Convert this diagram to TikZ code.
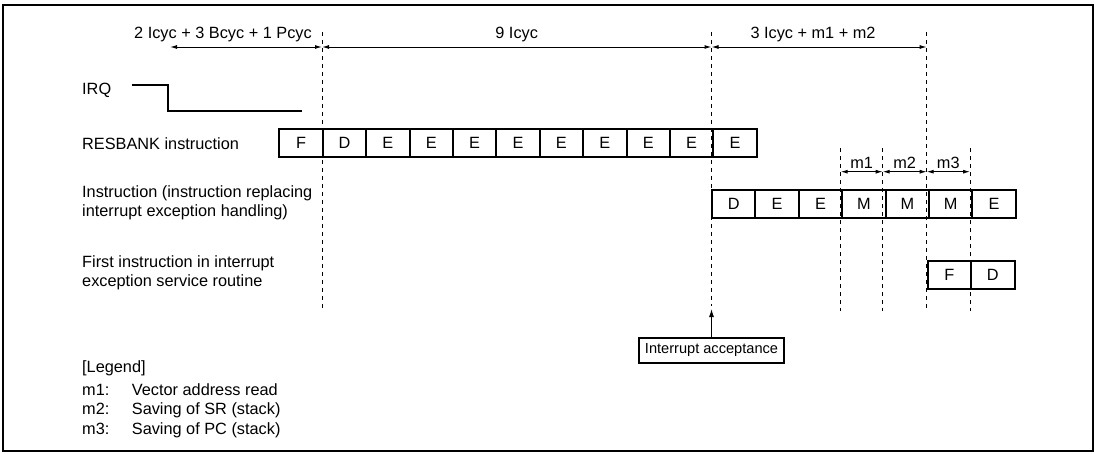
\documentclass[tikz,border=0pt]{standalone}
\usepackage{fontspec}
\setmainfont{Liberation Sans}
\usetikzlibrary{arrows.meta}
\begin{document}
\begin{tikzpicture}[x=1pt,y=-1pt,
  font=\fontsize{16.3}{19}\selectfont,
  cell/.style={draw,line width=2pt,minimum width=43.4pt,minimum height=28pt,inner sep=0pt,anchor=west},
  guide/.style={line width=1pt,dash pattern=on 4pt off 4pt},
  dim/.style={line width=1pt,{Latex[length=7pt,width=4pt]}-{Latex[length=7pt,width=4pt]}},
  lbl/.style={anchor=base west,inner sep=0pt,align=left},
  txt/.style={inner sep=0pt,anchor=base}
]
\useasboundingbox (0,0) rectangle (1100,453);
\draw[line width=2pt] (3,5) rectangle (1093,451);

% rows
\foreach \l [count=\i from 0] in {F,D,E,E,E,E,E,E,E,E,E}
  \node[cell] (r\i) at (278.3+43.4*\i,143) {\l};
\foreach \l [count=\i from 0] in {D,E,E,M,M,M,E}
  \node[cell] (s\i) at (711+43.4*\i,204) {\l};
\foreach \l [count=\i from 0] in {F,D}
  \node[cell] (f\i) at (926.7+43.4*\i,274.5) {\l};

% row labels
\node[lbl] (irq) at (82,94) {IRQ};
\node[lbl] (lr) at (82,149) {RESBANK instruction};
\node[lbl] (ls) at (82,216.5) {Instruction (instruction replacing\\interrupt exception handling)};
\node[lbl] (lf) at (82,286) {First instruction in interrupt\\exception service routine};

% IRQ waveform
\draw[line width=2pt] (131.7,85) -- (168,85) -- (168,111) -- (301.7,111);

% guide coordinates
\coordinate (g1t) at (322,32);   \coordinate (g1b) at (322,311);
\coordinate (g2t) at (711.5,32); \coordinate (g2b) at (711.5,306);
\coordinate (g3t) at (926.7,32); \coordinate (g3b) at (926.7,311);
\coordinate (g4t) at (840.7,148); \coordinate (g4b) at (840.7,311);
\coordinate (g5t) at (882.7,148); \coordinate (g5b) at (882.7,311);
\coordinate (g6t) at (970,148);  \coordinate (g6b) at (970,311);
\foreach \g in {1,...,6} \draw[guide] (g\g t) -- (g\g b);

% top dimensions
\coordinate (d0) at (170,47);
\coordinate (d1) at (322,47);
\coordinate (d2) at (711.5,47);
\coordinate (d3) at (926.7,47);
\draw[dim] (d0) -- (d1);
\draw[dim] (d1) -- (d2);
\draw[dim] (d2) -- (d3);
\node[txt] (t1) at (223,38) {2 Icyc + 3 Bcyc + 1 Pcyc};
\node[txt] (t2) at (516.7,38) {9 Icyc};
\node[txt] (t3) at (813,38) {3 Icyc + m1 + m2};

% m dimensions
\coordinate (m0) at (840.7,171.7);
\coordinate (m1) at (882.7,171.7);
\coordinate (m2) at (926.7,171.7);
\coordinate (m3) at (970,171.7);
\draw[dim] (m0) -- (m1);
\draw[dim] (m1) -- (m2);
\draw[dim] (m2) -- (m3);
\node[txt] (tm1) at (861.7,168) {m1};
\node[txt] (tm2) at (904.7,168) {m2};
\node[txt] (tm3) at (948.3,168) {m3};

% interrupt acceptance
\node[draw,line width=2pt,inner sep=0pt,minimum width=145pt,minimum height=25pt,
  font=\fontsize{14.6}{17}\selectfont] (ia) at (711.5,350) {Interrupt acceptance};
\coordinate (iat) at (711.5,309);
\draw[line width=1pt,-{Latex[length=8pt,width=5pt]}] (ia.north) -- (iat);

% legend
\node[lbl] (leg) at (82,372.5) {[Legend]};
\node[lbl] (k1) at (82,395) {m1:};
\node[lbl] (v1) at (131.7,395) {Vector address read};
\node[lbl] (k2) at (82,414.5) {m2:};
\node[lbl] (v2) at (131.7,414.5) {Saving of SR (stack)};
\node[lbl] (k3) at (82,434) {m3:};
\node[lbl] (v3) at (131.7,434) {Saving of PC (stack)};
\end{tikzpicture}
\end{document}
